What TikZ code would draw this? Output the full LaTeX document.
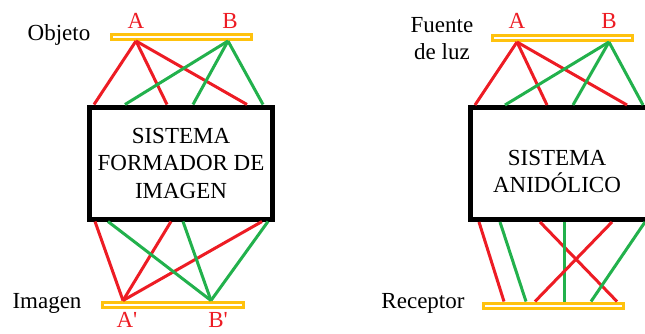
\documentclass[tikz,border=0pt]{standalone}
\usepackage{fontspec}
\newfontfamily\tnr{Liberation Serif}
\usepackage{tikz}

\definecolor{rojo}{RGB}{237,28,36}
\definecolor{verde}{RGB}{34,177,76}
\definecolor{oro}{RGB}{255,194,14}

\begin{document}
\begin{tikzpicture}[x=1pt,y=-1pt]
\tikzstyle{bar}=[draw=oro,line width=3pt,minimum width=140pt,minimum height=5pt,inner sep=0pt]
\tikzstyle{sistema}=[draw,line width=5pt,inner sep=0pt,minimum height=112pt]
\tikzstyle{rayr}=[draw=rojo,line width=3pt]
\tikzstyle{rayg}=[draw=verde,line width=3pt]
\tikzstyle{txt}=[font=\tnr\fontsize{23}{27.5}\selectfont,inner sep=0pt]
\tikzstyle{letra}=[txt,text=rojo]

\useasboundingbox (0,0) rectangle (645,333);

% formador de imagen
\node[bar] (objeto) at (181.5,37) {};
\node[bar,minimum width=141pt] (imagen) at (173,304.5) {};
\node[sistema,txt,minimum width=183pt,align=center] (formador) at (181,163) {SISTEMA\\FORMADOR DE\\IMAGEN};
\coordinate (A) at ([xshift=-45.5pt]objeto.south);
\coordinate (B) at ([xshift=46.5pt]objeto.south);
\coordinate (A2) at ([xshift=-50pt]imagen.north);
\coordinate (B2) at ([xshift=38pt]imagen.north);
\foreach \d in {-87,-14,66} \draw[rayr] (A) -- ([xshift=\d pt]formador.north);
\foreach \d in {-56,12,82} \draw[rayg] (B) -- ([xshift=\d pt]formador.north);
\foreach \d in {-86,-10,81} \draw[rayr] ([xshift=\d pt]formador.south) -- (A2);
\foreach \d in {-73,2,87} \draw[rayg] ([xshift=\d pt]formador.south) -- (B2);
\node[txt] (objlbl) at (59,35) {Objeto};
\node[letra] (Albl) at (136,21) {A};
\node[letra] (Blbl) at (230,21) {B};
\node[txt] (imglbl) at (47,303) {Imagen};
\node[letra] (A2lbl) at (127,320) {A'};
\node[letra] (B2lbl) at (218,320) {B'};

% sistema anidolico
\node[bar] (fuente) at (562.5,38) {};
\node[bar] (receptor) at (553.5,305.5) {};
\node[sistema,minimum width=190pt] (anidolico) at (565.5,163.5) {};
\node[txt,align=center] (anidtxt) at (557,171.5) {SISTEMA\\ANIDÓLICO};
\coordinate (A3) at ([xshift=-45.5pt]fuente.south);
\coordinate (B3) at ([xshift=46.5pt]fuente.south);
\foreach \d in {-90.5,-18.5,61.5} \draw[rayr] (A3) -- ([xshift=\d pt]anidolico.north);
\foreach \d in {-60.5,7.5,77.5} \draw[rayg] (B3) -- ([xshift=\d pt]anidolico.north);
\foreach \a/\b/\c in {-86.5/-49.5/rayr,-65.5/-27.5/rayg,-25.5/63.5/rayr,-1.5/10.5/rayg,46.5/-18.5/rayr,79.5/37.5/rayg}
  \draw[\c] ([xshift=\a pt]anidolico.south) -- ([xshift=\b pt]receptor.north);
\node[txt,align=center] (fuentelbl) at (442,38.5) {Fuente\\de luz};
\node[letra] (A3lbl) at (517,21) {A};
\node[letra] (B3lbl) at (609,21) {B};
\node[txt] (reclbl) at (423,303) {Receptor};
\end{tikzpicture}
\end{document}
